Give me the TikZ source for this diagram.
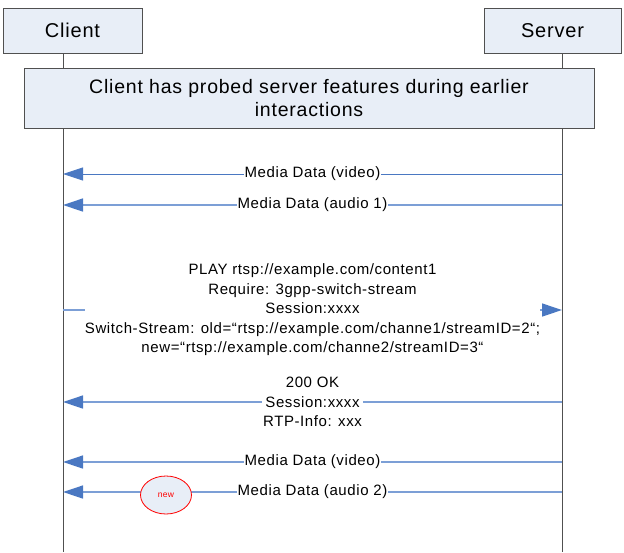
\documentclass[tikz,border=0pt]{standalone}
\usepackage{fontspec}
\setmainfont[LetterSpace=4]{Liberation Sans}
\usetikzlibrary{arrows.meta,shapes.geometric}
\definecolor{boxfill}{HTML}{E8EEF7}
\definecolor{boxline}{HTML}{505050}
\definecolor{arrblue}{HTML}{4A78C2}
\definecolor{lineblue}{HTML}{7C9FD6}
\tikzset{
  actor/.style={draw=boxline, fill=boxfill, line width=0.8pt, minimum height=45pt, font=\fontsize{20}{24}\selectfont, inner sep=0pt},
  notebox/.style={draw=boxline, fill=boxfill, line width=0.8pt, minimum width=570pt, minimum height=60pt, align=center, font=\fontsize{19.5}{23.5}\selectfont, inner sep=0pt},
  life/.style={draw=boxline, line width=0.9pt},
  msg/.style={draw=lineblue, line width=1.3pt, -{Triangle[length=20pt,width=13pt,fill=arrblue,color=arrblue]}},
  msgdark/.style={draw=arrblue, line width=0.9pt, -{Triangle[length=20pt,width=13pt,fill=arrblue,color=arrblue]}},
  lbl/.style={fill=white, inner sep=1pt, align=center, font=\fontsize{15}{19.5}\selectfont},
  newmark/.style={ellipse, draw=red, fill=boxfill, line width=0.8pt, minimum width=51pt, minimum height=38pt, inner sep=0pt, text=red, font=\fontsize{8.5}{10}\selectfont}
}
\begin{document}
\begin{tikzpicture}[x=1pt,y=-1pt]
\useasboundingbox (0,0) rectangle (624,552);
% actors
\node[actor, minimum width=139pt] (client) at (72.5,30.5) {Client};
\node[actor, minimum width=137pt] (server) at (552.5,30.5) {Server};
% lifeline end points
\coordinate (cend) at (63,552);
\coordinate (send) at (562,552);
\draw[life] (client.south -| cend) -- (cend);
\draw[life] (server.south -| send) -- (send);
% note
\node[notebox] (note) at (309,98) {Client has probed server features during earlier\\interactions};
% lifeline coordinates
\foreach \n/\y in {1/174,2/205,3/310,4/402,5/462,6/492}{
  \coordinate (c\n) at (63,\y);
  \coordinate (s\n) at (562,\y);
}
\draw[msgdark] (s1) -- node[lbl] (m1) {Media Data (video)} (c1);
\draw[msg] (s2) -- node[lbl] (m2) {Media Data (audio 1)} (c2);
\draw[msg] (c3) -- node[lbl, inner xsep=0pt] (m3) {PLAY rtsp://example.com/content1\\Require: 3gpp-switch-stream\\Session:xxxx\\Switch-Stream: old=“rtsp://example.com/channe1/streamID=2“;\\new=“rtsp://example.com/channe2/streamID=3“} (s3);
\draw[msg] (s4) -- node[lbl] (m4) {200 OK\\Session:xxxx\\RTP-Info: xxx} (c4);
\draw[msg] (s5) -- node[lbl] (m5) {Media Data (video)} (c5);
\draw[msg] (s6) -- node[lbl] (m6) {Media Data (audio 2)} (c6);
\node[newmark] (new) at (166,495) {new};
\end{tikzpicture}
\end{document}
